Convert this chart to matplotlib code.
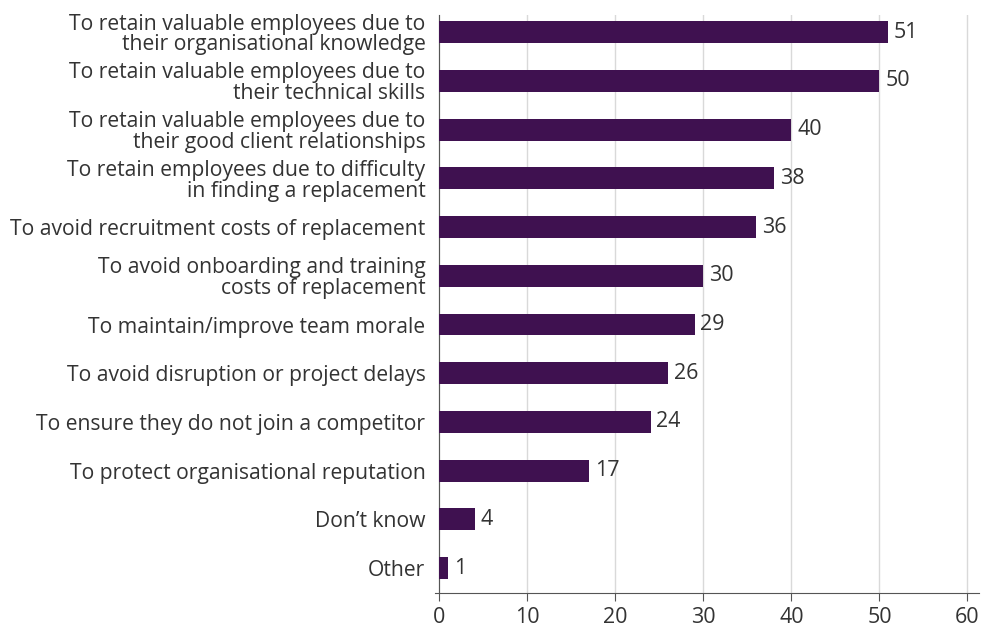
import matplotlib
matplotlib.use("Agg")
import matplotlib.pyplot as plt

reasons = [
    "To retain valuable employees due to\ntheir organisational knowledge",
    "To retain valuable employees due to\ntheir technical skills",
    "To retain valuable employees due to\ntheir good client relationships",
    "To retain employees due to difficulty\nin finding a replacement",
    "To avoid recruitment costs of replacement",
    "To avoid onboarding and training\ncosts of replacement",
    "To maintain/improve team morale",
    "To avoid disruption or project delays",
    "To ensure they do not join a competitor",
    "To protect organisational reputation",
    "Don\u2019t know",
    "Other",
]
values = [51, 50, 40, 38, 36, 30, 29, 26, 24, 17, 4, 1]
xticks = [0, 10, 20, 30, 40, 50, 60]

bar_color = "#3f1150"
text_color = "#333333"
plt.rcParams["font.family"] = ["Open Sans", "DejaVu Sans"]

fig = plt.figure(figsize=(9.81, 6.28), dpi=100)
ax = fig.add_axes([0.4434, 0.0557, 0.5545, 0.9203])

# spine position first: it resets the tick label settings
for s in ["top", "right"]:
    ax.spines[s].set_visible(False)
ax.spines["left"].set_position(("data", 0))
ax.spines["left"].set_color("#555555")
ax.spines["bottom"].set_color("#555555")

ypos = list(range(len(values)))
ax.barh(ypos, values, height=0.45, color=bar_color, zorder=3)
for y, v in zip(ypos, values):
    ax.text(v + 0.65, y, str(v), va="center", ha="left", fontsize=15.5, color=text_color)

ax.set_yticks(ypos)
ax.set_yticklabels(reasons, fontsize=15.2, color=text_color, linespacing=0.98)
ax.set_ylim(len(values) - 1 + 0.51, -0.35)
ax.set_xlim(-0.5, 61.3)
ax.set_xticks(xticks)
ax.set_xticklabels([str(t) for t in xticks], fontsize=15.5, color=text_color)

ax.grid(axis="x", color="#d9d9d9", linewidth=1, zorder=0)
ax.tick_params(axis="y", length=0, pad=10)
ax.tick_params(axis="x", length=6, color="#555555", pad=4, direction="out")

fig.savefig("out.png", dpi=100)
